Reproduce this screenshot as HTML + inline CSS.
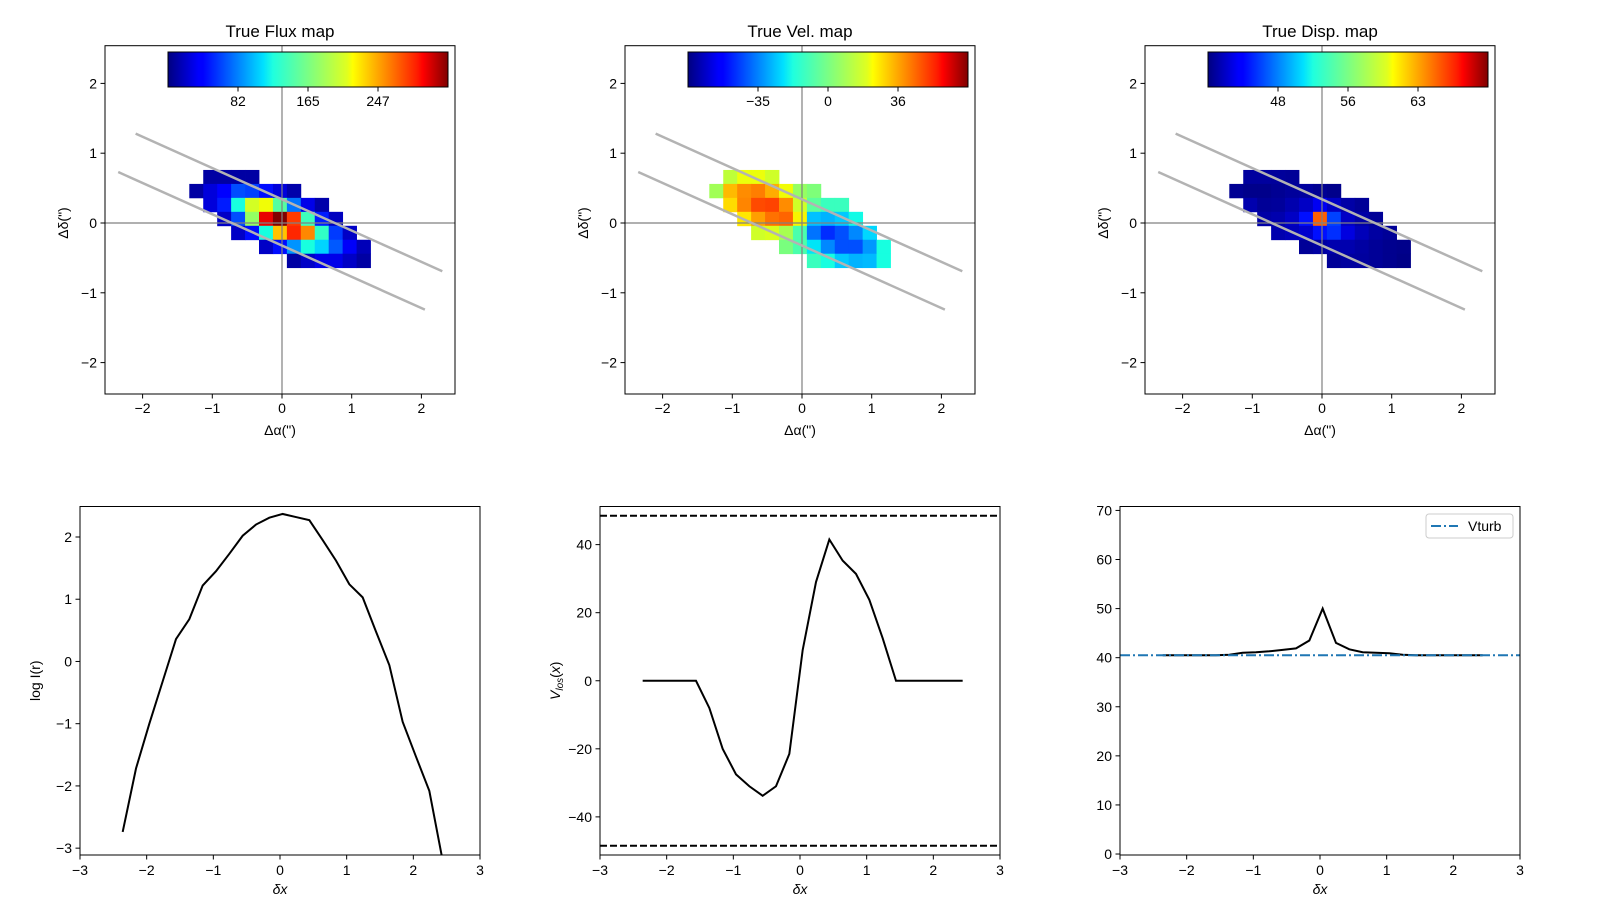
<!DOCTYPE html>
<html><head><meta charset="utf-8"><style>
html,body{margin:0;padding:0;background:#fff;}
svg{display:block;font-family:"Liberation Sans","DejaVu Sans",sans-serif;}
</style></head><body>
<svg id="fig" width="1600" height="900" viewBox="0 0 1600 900" xmlns="http://www.w3.org/2000/svg">
<defs>
<linearGradient id="jet" x1="0" x2="1" y1="0" y2="0">
<stop offset="0" stop-color="#000080"/><stop offset="0.11" stop-color="#0000ff"/><stop offset="0.125" stop-color="#0000ff"/>
<stop offset="0.34" stop-color="#00e0ff"/><stop offset="0.375" stop-color="#1fffdf"/><stop offset="0.64" stop-color="#e0ff1f"/>
<stop offset="0.66" stop-color="#ffff00"/><stop offset="0.89" stop-color="#ff1c00"/><stop offset="0.91" stop-color="#ff0000"/><stop offset="1" stop-color="#800000"/>
</linearGradient>
</defs>
</svg>
<script>
// ---- map data (13 cols x 7 rows, null = empty) ----
const fluxRows = [
[null,10,10,10,10,null,null,null,null,null,null,null,null],
[10,26,40,66,62,45,26,12,null,null,null,null,null],
[null,26,50,125,200,212,150,79,30,12,null,null,null],
[null,null,20,66,175,300,330,280,140,50,18,null,null],
[null,null,null,20,45,125,232,287,253,135,60,20,null],
[null,null,null,null,null,20,45,89,125,110,70,35,16],
[null,null,null,null,null,null,null,10,20,30,30,20,10]];
const velRows = [
[null,12,20,20,15,null,null,null,null,null,null,null,null],
[7,31,38,40,33,21,5,1,null,null,null,null,null],
[null,26,39,48,49,38,15,-5,-11,-11,null,null,null],
[null,null,24,35,42,44,22,-26,-28,-25,-18,null,null],
[null,null,null,15,17,8,-8,-37,-47,-42,-34,-23,null],
[null,null,null,null,null,0,-8,-21,-34,-42,-42,-32,-17],
[null,null,null,null,null,null,null,-11,-17,-25,-28,-27,-17]];
const dispRows = [
[null,41.3,41.3,41.2,41.1,null,null,null,null,null,null,null,null],
[41.0,40.8,40.8,41.0,41.2,41.3,41.0,40.8,null,null,null,null,null],
[null,41.7,41.1,41.2,41.7,42.3,43.5,42.3,41.5,41.1,null,null,null],
[null,null,41.5,41.7,42.3,44.7,64.8,46.2,42.3,41.5,41.1,null,null],
[null,null,null,41.7,42.0,42.5,44.7,45.6,43.0,42.0,41.4,41.1,null],
[null,null,null,null,null,41.1,41.4,41.7,41.7,41.4,41.1,40.9,40.8],
[null,null,null,null,null,null,null,41.1,41.3,41.3,41.1,40.9,40.7]];
const mapTitles = ["True Flux map","True Vel. map","True Disp. map"];
const mapVmin = [0,-71,40.5];
const mapVmax = [330,72,70.5];
const cbTickLabels = [["82","165","247"],["\u221235","0","36"],["48","56","63"]];
const mapTicks = [-2,-1,0,1,2];
// ---- profile data ----
const profX = [-2.36,-2.16,-1.96,-1.76,-1.56,-1.36,-1.16,-0.96,-0.76,-0.56,-0.36,-0.16,0.04,0.24,0.44,0.64,0.84,1.04,1.24,1.44,1.64,1.84,2.04,2.24,2.44];
const logI = [-2.74,-1.72,-1.0,-0.32,0.36,0.68,1.22,1.45,1.73,2.02,2.2,2.31,2.37,2.32,2.27,1.95,1.62,1.24,1.03,0.48,-0.06,-0.97,-1.53,-2.08,-3.2];
const vlos = [0,0,0,0,0,-8,-20,-27.5,-31,-33.8,-31,-21.5,9,29,41.5,35.3,31.4,23.8,12.5,0,0,0,0,0,0];
const sigma = [40.5,40.5,40.5,40.5,40.5,40.6,41.0,41.1,41.3,41.6,41.9,43.5,50,43,41.7,41.1,41.0,40.9,40.6,40.5,40.5,40.5,40.5,40.5,40.5];
const vturb = 40.5;
const vmaxLine = 48.5;

const NS="http://www.w3.org/2000/svg";
const svg=document.getElementById('fig');
function mk(tag,attrs,parent){const e=document.createElementNS(NS,tag);for(const k in attrs)e.setAttribute(k,attrs[k]);(parent||svg).appendChild(e);return e;}
function txt(s,attrs,parent){const e=mk('text',attrs,parent);e.textContent=s;return e;}
function jet(t){t=Math.max(0,Math.min(1,t));
 const itp=(pts)=>{for(let i=1;i<pts.length;i++){if(t<=pts[i][0]){const a=pts[i-1],b=pts[i];return a[1]+(b[1]-a[1])*(t-a[0])/(b[0]-a[0]);}}return pts[pts.length-1][1];};
 const r=itp([[0,0],[0.35,0],[0.66,1],[0.89,1],[1,0.5]]);
 const g=itp([[0,0],[0.125,0],[0.375,1],[0.64,1],[0.91,0],[1,0]]);
 const b=itp([[0,0.5],[0.11,1],[0.34,1],[0.65,0],[1,0]]);
 return `rgb(${Math.round(r*255)},${Math.round(g*255)},${Math.round(b*255)})`;}
const minus=v=>String(v).replace('-','\u2212');

const mapsData=[fluxRows,velRows,dispRows];
const mapNames=['flux','vel','disp'];
for(let m=0;m<3;m++){
 const X0=105+520*m, top=45.7, bot=394, W=350;
 const g=mk('g',{});
 
 
 const sx=v=>X0+177+v*69.7, sy=v=>223-v*69.8;
 const rows=mapsData[m];
 for(let r=0;r<rows.length;r++)for(let c=0;c<rows[r].length;c++){
  const v=rows[r][c]; if(v===null)continue;
  const x0=-1.33+0.2*c, y0=0.76-0.2*r;
  const cell=mk('rect',{x:sx(x0),y:sy(y0),width:sx(x0+0.2)-sx(x0)+0.4,height:sy(y0-0.2)-sy(y0)+0.4,fill:jet((v-mapVmin[m])/(mapVmax[m]-mapVmin[m]))},g);
  
  
 }
 // axis lines
 const ax0=mk('line',{x1:X0,x2:X0+W,y1:sy(0),y2:sy(0),stroke:'#808080','stroke-width':1.2},g);
 
 
 const ay0=mk('line',{x1:sx(0),x2:sx(0),y1:top,y2:bot,stroke:'#808080','stroke-width':1.2},g);
 
 
 // slit lines
 const s=-0.448;
 const l1=mk('line',{x1:sx(-2.1),y1:sy(1.28),x2:sx(2.3),y2:sy(1.28+s*4.4),stroke:'#b3b3b3','stroke-width':2.5},g);
 
 
 const l2=mk('line',{x1:sx(-2.35),y1:sy(0.73),x2:sx(2.05),y2:sy(0.73+s*4.4),stroke:'#b3b3b3','stroke-width':2.5},g);
 
 
 // frame
 const fr=mk('rect',{x:X0,y:top,width:W,height:bot-top,fill:'none',stroke:'#000','stroke-width':1},g);
 
 
 for(const t of mapTicks){
  mk('line',{x1:sx(t),x2:sx(t),y1:bot,y2:bot+4.5,stroke:'#000'},g);
  const tl=txt(minus(t),{x:sx(t),y:bot+19,'font-size':14,'text-anchor':'middle'},g);
  
  
  mk('line',{x1:X0-4.5,x2:X0,y1:sy(t),y2:sy(t),stroke:'#000'},g);
  const yl=txt(minus(t),{x:X0-8,y:sy(t)+5,'font-size':14,'text-anchor':'end'},g);
  
  
 }
 const ttl=txt(mapTitles[m],{x:X0+175,y:37,'font-size':17,'text-anchor':'middle'},g);
 
 
 const xl=txt('\u0394\u03b1(")',{x:X0+175,y:435,'font-size':14,'text-anchor':'middle'},g);
 
 
 const yt=txt('\u0394\u03b4(")',{x:0,y:0,'font-size':14,'text-anchor':'middle',transform:`translate(${X0-37},${sy(0)}) rotate(-90)`},g);
 
 
 // colorbar
 const cb=mk('rect',{x:X0+63,y:52,width:280,height:35,fill:'url(#jet)',stroke:'#000','stroke-width':1},g);
 
 
 for(let i=0;i<3;i++){
  const cx=X0+63+280*(i+1)/4;
  mk('line',{x1:cx,x2:cx,y1:87,y2:91.5,stroke:'#000'},g);
  const cl=txt(cbTickLabels[m][i],{x:cx,y:106,'font-size':14,'text-anchor':'middle'},g);
  
  
 }
}

// ---- bottom panels ----
function panel(idx,ymin,ymax,yticks,ylab,series,name){
 const X0=80+520*idx, top=506.5, bot=855, W=400;
 const g=mk('g',{});
 
 
 const sx=v=>X0+(v+3)*W/6, sy=v=>bot-(v-ymin)*(bot-top)/(ymax-ymin);
 const cp=mk('clipPath',{id:'cp'+idx},g); mk('rect',{x:X0,y:top,width:W,height:bot-top},cp);
 const pg=mk('g',{'clip-path':`url(#cp${idx})`},g);
 series(pg,sx,sy);
 const fr=mk('rect',{x:X0,y:top,width:W,height:bot-top,fill:'none',stroke:'#000','stroke-width':1},g);
 
 
 for(let t=-3;t<=3;t++){
  mk('line',{x1:sx(t),x2:sx(t),y1:bot,y2:bot+4.5,stroke:'#000'},g);
  const tl=txt(minus(t),{x:sx(t),y:bot+20,'font-size':14,'text-anchor':'middle'},g);
  
  
 }
 for(const t of yticks){
  mk('line',{x1:X0-4.5,x2:X0,y1:sy(t),y2:sy(t),stroke:'#000'},g);
  const yl=txt(minus(t),{x:X0-8,y:sy(t)+5,'font-size':14,'text-anchor':'end'},g);
  
  
 }
 const xl=txt('\u03b4x',{x:X0+W/2,y:894,'font-size':14,'font-style':'italic','text-anchor':'middle'},g);
 
 
 if(ylab){
  const yt=mk('text',{x:0,y:0,'font-size':14,'text-anchor':'middle',transform:`translate(${X0-40},${(top+bot)/2}) rotate(-90)`},g);
  yt.innerHTML=ylab;
  
  
 }
}
function line(pg,sx,sy,ys){
 return mk('polyline',{points:profX.map((x,i)=>sx(x)+','+sy(ys[i])).join(' '),fill:'none',stroke:'#000','stroke-width':2},pg);
}
panel(0,-3.11,2.49,[-3,-2,-1,0,1,2],'log I(r)',(pg,sx,sy)=>{
 const l=line(pg,sx,sy,logI);
 
 
},'intensity-profile-panel');
panel(1,-51.2,51.2,[-40,-20,0,20,40],'<tspan font-style="italic">V</tspan><tspan font-style="italic" font-size="10" dy="3">los</tspan><tspan dy="-3">(</tspan><tspan font-style="italic">x</tspan>)',(pg,sx,sy)=>{
 const d1=mk('line',{x1:sx(-3),x2:sx(3),y1:sy(vmaxLine),y2:sy(vmaxLine),stroke:'#000','stroke-width':2,'stroke-dasharray':'7,3'},pg);
 
 
 const d2=mk('line',{x1:sx(-3),x2:sx(3),y1:sy(-vmaxLine),y2:sy(-vmaxLine),stroke:'#000','stroke-width':2,'stroke-dasharray':'7,3'},pg);
 
 
 const l=line(pg,sx,sy,vlos);
 
 
},'velocity-profile-panel');
panel(2,-0.2,70.8,[0,10,20,30,40,50,60,70],null,(pg,sx,sy)=>{
 const l=line(pg,sx,sy,sigma);
 
 
 const v=mk('line',{x1:sx(-3),x2:sx(3),y1:sy(vturb),y2:sy(vturb),stroke:'#1f77b4','stroke-width':2,'stroke-dasharray':'10,3,2,3'},pg);
 
 
},'dispersion-profile-panel');
// legend
const lg=mk('g',{});


mk('rect',{x:1426,y:514,width:87,height:24,rx:3,fill:'#fff',stroke:'#ccc'},lg);
mk('line',{x1:1431,x2:1458,y1:526,y2:526,stroke:'#1f77b4','stroke-width':2,'stroke-dasharray':'10,3,2,3'},lg);
const lt=txt('Vturb',{x:1468,y:531,'font-size':14},lg);


</script>
</body></html>
